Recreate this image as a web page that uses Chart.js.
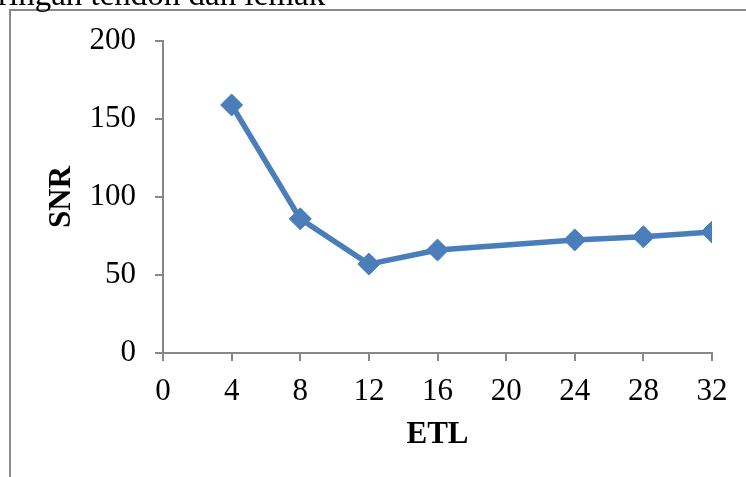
<!DOCTYPE html>
<html>
<head>
<meta charset="utf-8">
<script src="https://cdn.jsdelivr.net/npm/chart.js@4"></script>
<style>
  html, body { margin: 0; padding: 0; background: #ffffff; }
  #wrap { width: 746px; height: 477px; position: relative; }
</style>
</head>
<body>
<div id="wrap"><canvas id="snrChart"></canvas></div>
<script>
const etlValues = [4, 8, 12, 16, 24, 28, 32];
const snrValues = [159, 86, 57, 66, 72.5, 74.5, 77.5];
const xTicks = [0, 4, 8, 12, 16, 20, 24, 28, 32];
const yTicks = [0, 50, 100, 150, 200];
const captionText = "ringan tendon dan lemak";

const serif = "'Liberation Serif', 'Times New Roman', serif";
const axisGray = "#878787";
const lineBlue = "#4a7ebb";

// frame lines and the cut-off caption above the chart
const framePlugin = {
  id: "frame",
  beforeDraw(chart) {
    const ctx = chart.ctx;
    ctx.save();
    ctx.fillStyle = "#ffffff";
    ctx.fillRect(0, 0, chart.width, chart.height);
    ctx.strokeStyle = "#8a8a8a";
    ctx.lineWidth = 2;
    ctx.beginPath();
    ctx.moveTo(10, chart.height);
    ctx.lineTo(10, 10);
    ctx.lineTo(chart.width, 10);
    ctx.stroke();
    ctx.fillStyle = "#000000";
    ctx.font = `33px ${serif}`;
    ctx.textBaseline = "alphabetic";
    ctx.textAlign = "left";
    ctx.fillText(captionText, -2, 5);
    ctx.restore();
  }
};

const ctx = document.getElementById("snrChart").getContext("2d");

new Chart(ctx, {
  type: "line",
  data: {
    datasets: [
      {
        data: etlValues.map((x, i) => ({ x, y: snrValues[i] })),
        borderColor: lineBlue,
        backgroundColor: lineBlue,
        borderWidth: 5.5,
        tension: 0,
        pointStyle: "rectRot",
        pointRadius: 11,
        pointBorderWidth: 1,
        pointBorderColor: lineBlue,
        pointBackgroundColor: lineBlue
      }
    ]
  },
  options: {
    responsive: true,
    maintainAspectRatio: false,
    animation: false,
    layout: {
      padding: { top: 41, right: 34, bottom: 0, left: 0 }
    },
    plugins: {
      legend: { display: false },
      tooltip: { enabled: false }
    },
    scales: {
      x: {
        type: "linear",
        min: 0,
        max: 32,
        afterBuildTicks: (scale) => {
          scale.ticks = xTicks.map((v) => ({ value: v }));
        },
        afterFit: (scale) => {
          scale.height = 124;
        },
        ticks: {
          color: "#000000",
          padding: 12,
          maxRotation: 0,
          font: { family: serif, size: 31 }
        },
        grid: {
          drawOnChartArea: false,
          drawTicks: true,
          tickLength: 8,
          tickColor: axisGray,
          lineWidth: 2
        },
        border: { color: axisGray, width: 2 },
        title: {
          display: true,
          text: "ETL",
          color: "#000000",
          padding: { top: 0, bottom: 23 },
          font: { family: serif, size: 31, weight: "bold" }
        }
      },
      y: {
        min: 0,
        max: 200,
        afterBuildTicks: (scale) => {
          scale.ticks = yTicks.map((v) => ({ value: v }));
        },
        afterFit: (scale) => {
          scale.width = 163;
        },
        ticks: {
          color: "#000000",
          padding: 19,
          font: { family: serif, size: 31 }
        },
        grid: {
          drawOnChartArea: false,
          drawTicks: true,
          tickLength: 8,
          tickColor: axisGray,
          lineWidth: 2
        },
        border: { color: axisGray, width: 2 },
        title: {
          display: true,
          text: "SNR",
          color: "#000000",
          padding: { top: 43, bottom: 0 },
          font: { family: serif, size: 31, weight: "bold" }
        }
      }
    }
  },
  plugins: [framePlugin]
});
</script>
</body>
</html>
